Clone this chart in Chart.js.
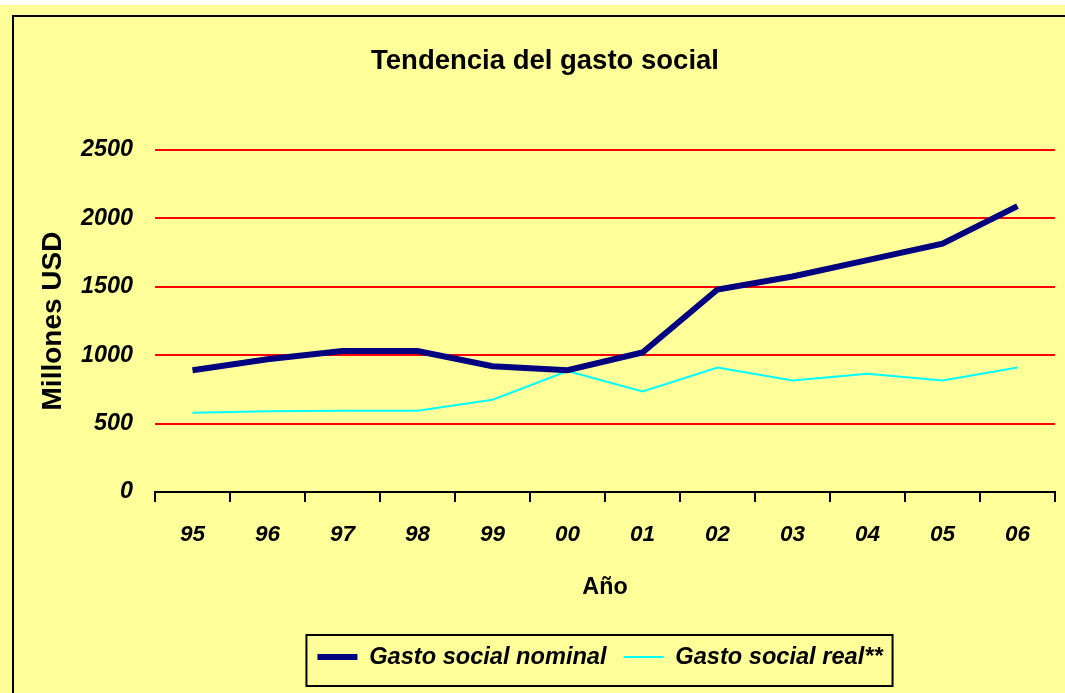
<!DOCTYPE html>
<html>
<head>
<meta charset="utf-8">
<script src="https://cdn.jsdelivr.net/npm/chart.js@4.4.1/dist/chart.umd.min.js"></script>
<style>
  html, body { margin: 0; padding: 0; background: #fff; overflow: hidden; }
  .page { position: absolute; left: 0; top: 5px; width: 1065px; height: 688px; background: #ffff99; }
  .frame { position: absolute; left: 12px; top: 15px; width: 1080px; height: 700px; border: 2px solid #000; }
  .chart-box { position: absolute; left: 0; top: 0; width: 1065px; height: 693px; }
</style>
</head>
<body>
<div class="page"></div>
<div class="frame"></div>
<div class="chart-box"><canvas id="line-chart"></canvas></div>
<script>
const years = ['95', '96', '97', '98', '99', '00', '01', '02', '03', '04', '05', '06'];
const nominal = [890, 970, 1030, 1030, 920, 890, 1020, 1480, 1575, 1695, 1815, 2090];
const real = [580, 590, 595, 595, 675, 885, 735, 910, 815, 865, 815, 910];
const yTicks = [0, 500, 1000, 1500, 2000, 2500];

const FONT = "'Liberation Sans', Arial, sans-serif";

// move title and legend to where excel had them, box the legend
const shiftBoxes = {
  id: 'shiftBoxes',
  afterLayout(chart) {
    const move = (box, dx) => {
      if (!box) return;
      box.left += dx;
      box.right += dx;
    };
    move(chart.titleBlock, 7.5);
    move(chart.legend, 62.5);
  },
  afterDraw(chart) {
    const boxes = chart.legend && chart.legend.legendHitBoxes;
    if (!boxes || !boxes.length) return;
    const first = boxes[0];
    const last = boxes[boxes.length - 1];
    const mid = first.top + first.height / 2;
    const ctx = chart.ctx;
    ctx.save();
    ctx.strokeStyle = '#000';
    ctx.lineWidth = 2;
    ctx.strokeRect(first.left - 11, mid - 22, last.left + last.width - first.left + 21, 51);
    ctx.restore();
  }
};

new Chart(document.getElementById('line-chart'), {
  type: 'line',
  data: {
    labels: years,
    datasets: [
      {
        label: 'Gasto social nominal',
        data: nominal,
        borderColor: '#000080',
        backgroundColor: '#000080',
        borderWidth: 6,
        pointRadius: 0,
        tension: 0
      },
      {
        label: 'Gasto social real**',
        data: real,
        borderColor: '#00ffff',
        backgroundColor: '#00ffff',
        borderWidth: 2,
        pointRadius: 0,
        tension: 0
      }
    ]
  },
  plugins: [shiftBoxes],
  options: {
    responsive: true,
    maintainAspectRatio: false,
    animation: false,
    layout: { padding: { left: 20, right: 10, top: 0, bottom: 14.2 } },
    plugins: {
      title: {
        display: true,
        text: 'Tendencia del gasto social',
        color: '#000',
        font: { family: FONT, size: 27.5, weight: 'bold' },
        padding: { top: 45, bottom: 72 }
      },
      legend: {
        position: 'bottom',
        labels: {
          color: '#000',
          font: { family: FONT, size: 23.6, weight: 'bold', style: 'italic' },
          usePointStyle: true,
          pointStyle: 'line',
          pointStyleWidth: 40,
          padding: 17
        }
      },
      tooltip: { enabled: false }
    },
    scales: {
      x: {
        offset: true,
        grid: {
          offset: true,
          drawOnChartArea: false,
          color: '#000',
          lineWidth: 2,
          tickLength: 10
        },
        border: { color: '#000', width: 2 },
        ticks: {
          color: '#000',
          padding: 19.5,
          maxRotation: 0,
          autoSkip: false,
          font: { family: FONT, size: 22.5, weight: 'bold', style: 'italic' }
        },
        title: {
          display: true,
          text: 'Año',
          color: '#000',
          font: { family: FONT, size: 23.3, weight: 'bold' },
          padding: { top: 6, bottom: 26.2 }
        }
      },
      y: {
        min: 0,
        max: 2500,
        afterBuildTicks(scale) {
          scale.ticks = yTicks.map(v => ({ value: v }));
        },
        afterFit(scale) {
          scale.width = 135;
        },
        grid: {
          color: '#ff0000',
          lineWidth: 2,
          drawTicks: false
        },
        border: { display: false },
        ticks: {
          color: '#000',
          padding: 22,
          callback: v => String(v),
          font: { family: FONT, size: 23.4, weight: 'bold', style: 'italic' }
        },
        title: {
          display: true,
          text: 'Millones USD',
          color: '#000',
          font: { family: FONT, size: 28, weight: 'bold' },
          padding: { top: 16.2, bottom: 0 }
        }
      }
    }
  }
});
</script>
</body>
</html>
